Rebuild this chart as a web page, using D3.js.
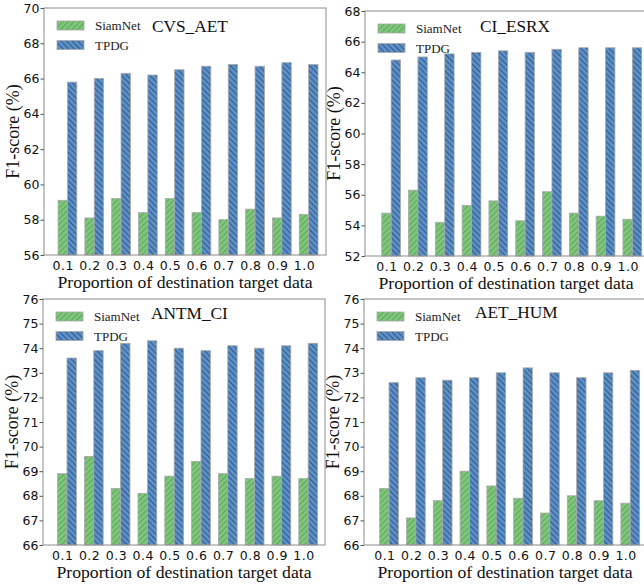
<!DOCTYPE html>
<html>
<head>
<meta charset="utf-8">
<script src="https://cdn.jsdelivr.net/npm/d3@7"></script>
<style>
  body { margin: 0; background: #fff; }
  svg { display: block; }
</style>
</head>
<body>
<div id="chart"></div>
<script>
// data
const proportions = ["0.1", "0.2", "0.3", "0.4", "0.5", "0.6", "0.7", "0.8", "0.9", "1.0"];
const seriesNames = ["SiamNet", "TPDG"];
const panelTitles = ["CVS_AET", "CI_ESRX", "ANTM_CI", "AET_HUM"];

const siamCVS = [59.1, 58.1, 59.2, 58.4, 59.2, 58.4, 58.0, 58.6, 58.1, 58.3];
const tpdgCVS = [65.8, 66.0, 66.3, 66.2, 66.5, 66.7, 66.8, 66.7, 66.9, 66.8];
const siamCI = [54.8, 56.3, 54.2, 55.3, 55.6, 54.3, 56.2, 54.8, 54.6, 54.4];
const tpdgCI = [64.8, 65.0, 65.2, 65.3, 65.4, 65.3, 65.5, 65.6, 65.6, 65.6];
const siamANTM = [68.9, 69.6, 68.3, 68.1, 68.8, 69.4, 68.9, 68.7, 68.8, 68.7];
const tpdgANTM = [73.6, 73.9, 74.2, 74.3, 74.0, 73.9, 74.1, 74.0, 74.1, 74.2];
const siamAET = [68.3, 67.1, 67.8, 69.0, 68.4, 67.9, 67.3, 68.0, 67.8, 67.7];
const tpdgAET = [72.6, 72.8, 72.7, 72.8, 73.0, 73.2, 73.0, 72.8, 73.0, 73.1];

const yDomains = [[56, 70], [52, 68], [66, 76], [66, 76]];
const yTickSteps = [2, 2, 1, 1];

const panels = [
  { title: panelTitles[0], siam: siamCVS, tpdg: tpdgCVS, y: yDomains[0], step: yTickSteps[0],
    left: 44, top: 8, bottom: 255, xmin: -0.7, titleX: 108, titleY: 24 },
  { title: panelTitles[1], siam: siamCI, tpdg: tpdgCI, y: yDomains[1], step: yTickSteps[1],
    left: 365, top: 11, bottom: 256, xmin: -0.8, titleX: 115, titleY: 21 },
  { title: panelTitles[2], siam: siamANTM, tpdg: tpdgANTM, y: yDomains[2], step: yTickSteps[2],
    left: 43, top: 299, bottom: 545, xmin: -0.72, titleX: 108, titleY: 20 },
  { title: panelTitles[3], siam: siamAET, tpdg: tpdgAET, y: yDomains[3], step: yTickSteps[3],
    left: 364, top: 299, bottom: 545, xmin: -0.76, titleX: 111, titleY: 19 }
];

const W = 644, H = 586;
const unit = 26.8;        // px per category
const plotW = 282;
const barW = 0.35;
const serif = "'Liberation Serif', 'Times New Roman', serif";
const sans = "'DejaVu Sans', sans-serif";

const svg = d3.select("#chart").append("svg")
  .attr("width", W).attr("height", H);

// hatch patterns
const defs = svg.append("defs");
function hatch(id, fill, line, dir) {
  const p = defs.append("pattern")
    .attr("id", id)
    .attr("patternUnits", "userSpaceOnUse")
    .attr("width", 4).attr("height", 4)
    .attr("patternTransform", `rotate(${dir})`);
  p.append("rect").attr("width", 4).attr("height", 4).attr("fill", fill);
  p.append("line").attr("x1", 0).attr("y1", 0).attr("x2", 0).attr("y2", 4)
    .attr("stroke", line).attr("stroke-width", 1.1);
}
hatch("hG", "#7dc67b", "#4a8a47", 45);
hatch("hB", "#5a8fc8", "#1d2c4a", -45);
const fills = ["url(#hG)", "url(#hB)"];

panels.forEach(p => {
  const x = d3.scaleLinear()
    .domain([p.xmin, p.xmin + plotW / unit])
    .range([p.left, p.left + plotW]);
  const y = d3.scaleLinear().domain(p.y).range([p.bottom, p.top]);

  const g = svg.append("g");

  const rows = proportions.map((d, i) => ({ i, siam: p.siam[i], tpdg: p.tpdg[i] }));

  g.selectAll("rect.siam").data(rows).join("rect")
    .attr("x", d => x(d.i - barW / 2))
    .attr("width", x(barW) - x(0))
    .attr("y", d => y(d.siam))
    .attr("height", d => y(p.y[0]) - y(d.siam))
    .attr("fill", fills[0])
    .attr("stroke", "#a9a9a9").attr("stroke-width", 0.8);

  g.selectAll("rect.tpdg").data(rows).join("rect")
    .attr("x", d => x(d.i + barW / 2))
    .attr("width", x(barW) - x(0))
    .attr("y", d => y(d.tpdg))
    .attr("height", d => y(p.y[0]) - y(d.tpdg))
    .attr("fill", fills[1])
    .attr("stroke", "#a9a9a9").attr("stroke-width", 0.8);

  // frame
  g.append("rect")
    .attr("x", p.left).attr("y", p.top)
    .attr("width", plotW).attr("height", p.bottom - p.top)
    .attr("fill", "none").attr("stroke", "#8c8c8c").attr("stroke-width", 1);

  // y axis
  const yTicks = d3.range(p.y[0], p.y[1] + 0.001, p.step);
  const yAxis = g.append("g")
    .attr("transform", `translate(${p.left},0)`)
    .call(d3.axisLeft(y).tickValues(yTicks).tickFormat(d3.format("d")).tickSize(3.5).tickPadding(1));
  yAxis.select(".domain").remove();
  yAxis.selectAll("line").attr("stroke", "#555");
  yAxis.selectAll("text").attr("font-family", sans).attr("font-size", 12.5).attr("fill", "#111");

  // x axis
  const xAxis = g.append("g")
    .attr("transform", `translate(0,${p.bottom})`)
    .call(d3.axisBottom(x).tickValues(d3.range(proportions.length))
      .tickFormat(i => proportions[i]).tickSize(0).tickPadding(6));
  xAxis.select(".domain").remove();
  xAxis.selectAll("text").attr("font-family", sans).attr("font-size", 12.5)
    .attr("fill", "#111").attr("letter-spacing", 0.5);

  // axis labels
  g.append("text")
    .attr("transform", `translate(${p.left - 25},${(p.top + p.bottom) / 2}) rotate(-90)`)
    .attr("text-anchor", "middle")
    .attr("font-family", serif).attr("font-size", 18).attr("fill", "#111")
    .text("F1-score (%)");

  g.append("text")
    .attr("x", p.left + 141).attr("y", p.bottom + 33)
    .attr("text-anchor", "middle")
    .attr("font-family", serif).attr("font-size", 17.7).attr("fill", "#111")
    .text("Proportion of destination target data");

  // legend
  const lg = g.append("g").attr("transform", `translate(${p.left + 13},${p.top + 13})`);
  seriesNames.forEach((s, k) => {
    lg.append("rect")
      .attr("x", 0).attr("y", k * 19.5)
      .attr("width", 27).attr("height", 9)
      .attr("fill", fills[k]).attr("stroke", "#a9a9a9").attr("stroke-width", 0.8);
    lg.append("text")
      .attr("x", 38).attr("y", k * 19.5 + 9)
      .attr("font-family", serif).attr("font-size", 13).attr("fill", "#222")
      .text(s);
  });

  // panel title
  g.append("text")
    .attr("x", p.left + p.titleX).attr("y", p.top + p.titleY)
    .attr("font-family", serif).attr("font-size", 17.3).attr("fill", "#111")
    .text(p.title);
});
</script>
</body>
</html>
